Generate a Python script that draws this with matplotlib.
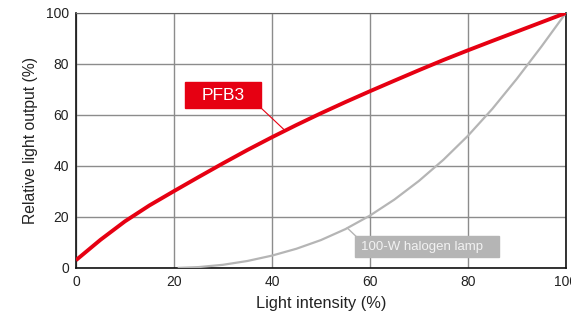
import numpy as np
import matplotlib.pyplot as plt
from matplotlib.patches import Rectangle

plt.rcParams['font.family'] = ['Liberation Sans', 'DejaVu Sans']

# PFB3 dimming curve
pfb3_x = [0, 5, 10, 15, 20, 25, 30, 35, 40, 45, 50, 55, 60, 65, 70, 75, 80, 85, 90, 95, 100]
pfb3_y = [3, 11, 18.25, 24.5, 30.1, 35.6, 41, 46.25, 51.25, 56.05, 60.65, 65.05, 69.3,
          73.45, 77.55, 81.55, 85.35, 89.05, 92.7, 96.35, 100]

# 100-W halogen lamp curve
halo_x = [21, 25, 30, 35, 40, 45, 50, 55, 60, 65, 70, 75, 80, 85, 90, 95, 100]
halo_y = [0, 0.3, 1.2, 2.7, 4.8, 7.5, 10.9, 15.2, 20.5, 26.8, 34.1, 42.4, 51.8, 62.4, 74.2, 86.8, 100]

ticks = [0, 20, 40, 60, 80, 100]

fig = plt.figure(figsize=(5.71, 3.17), dpi=100)
ax = fig.add_axes([0.133, 0.155, 0.858, 0.804])

red = '#e60012'
gray = '#b5b5b5'

ax.plot(halo_x, halo_y, color=gray, lw=1.6, zorder=3, solid_joinstyle='round')
ax.plot(pfb3_x, pfb3_y, color=red, lw=2.8, zorder=4, solid_joinstyle='round',
        solid_capstyle='butt')

ax.set_xlim(0, 100)
ax.set_ylim(0, 100)
ax.set_xticks(ticks)
ax.set_yticks(ticks)
ax.tick_params(length=0, labelsize=10, pad=5, colors='#222222')
ax.grid(True, color='#8c8c8c', lw=1)
ax.set_axisbelow(True)
for s in ['left', 'bottom', 'right']:
    ax.spines[s].set_color('#111111')
    ax.spines[s].set_linewidth(1.2)
ax.spines['top'].set_color('#666666')

ax.set_xlabel('Light intensity (%)', fontsize=11.8, labelpad=5, color='#222222')
ax.set_ylabel('Relative light output (%)', fontsize=11.3, labelpad=6, color='#222222')

# PFB3 label box + leader
ax.add_patch(Rectangle((22.2, 62.7), 15.6, 10.2, color=red, zorder=5))
ax.text(30, 67.8, 'PFB3', color='white', fontsize=12.5, ha='center', va='center', zorder=6)
lx = 42.7
ax.plot([37.8, lx], [62.7, np.interp(lx, pfb3_x, pfb3_y)], color=red, lw=0.8, zorder=5)

# halogen label box + leader
ax.add_patch(Rectangle((56.9, 4.3), 29.4, 8.2, color=gray, zorder=5))
ax.text(58.2, 8.3, '100-W halogen lamp', color='#f2f2f2', fontsize=9.5, ha='left', va='center', zorder=6)
hx = 55.4
ax.plot([hx, 57.1], [np.interp(hx, halo_x, halo_y), 12.5], color=gray, lw=1.0, zorder=5)

fig.savefig('out.png', dpi=100)
